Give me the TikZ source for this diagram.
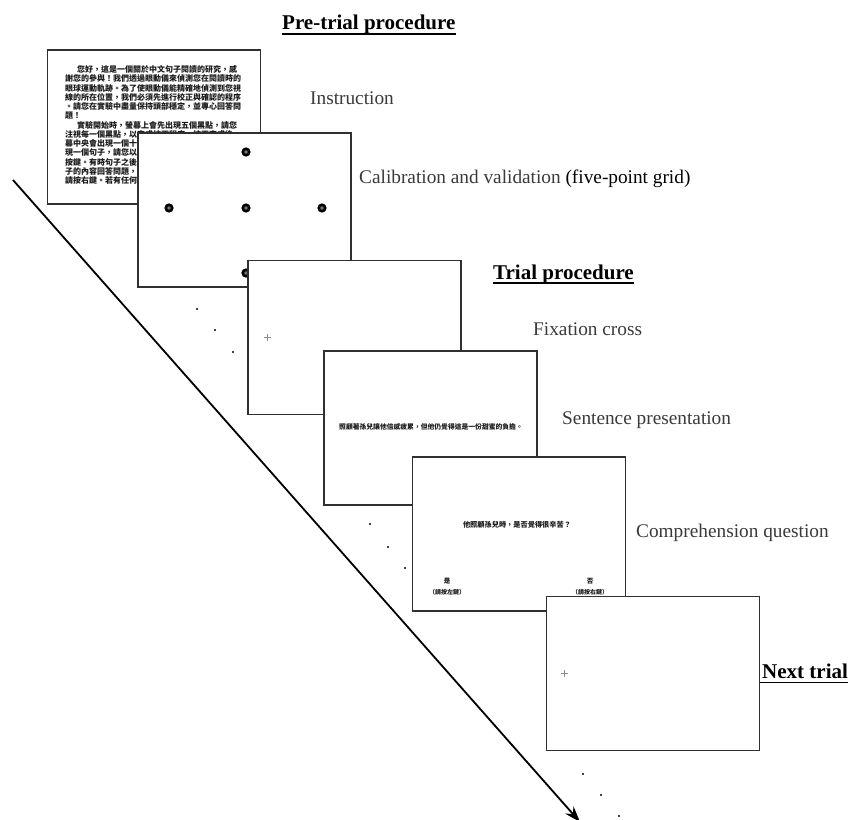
\documentclass[tikz,border=0pt]{standalone}
\usepackage{fontspec}
\setmainfont{Liberation Serif}
\newfontfamily\cjk{Noto Sans CJK TC}
\usetikzlibrary{arrows.meta}
\definecolor{lblgray}{HTML}{3A3A3A}
\definecolor{framecol}{HTML}{303030}
\begin{document}
\begin{tikzpicture}[x=1pt,y=-1pt,
  screen/.style={draw=framecol, line width=1.8pt, fill=white, minimum width=213pt, minimum height=154pt, inner sep=0pt, outer sep=0pt},
  lbl/.style={anchor=base west, inner sep=0pt, font=\fontsize{19.3}{23}\selectfont, text=lblgray},
  head/.style={anchor=base west, inner sep=0pt, font=\bfseries\fontsize{21}{25}\selectfont, text=black},
  uline/.style={line width=1.8pt, black},
  calib/.style={circle, draw=black, line width=2.6pt, fill=black!55, minimum size=6.5pt, inner sep=0pt},
  tdot/.style={circle, fill=black, minimum size=2.4pt, inner sep=0pt},
  cross/.style={draw=black!45, line width=0.6pt},
  cjktext/.style={inner sep=0pt, text=black!90, font=\cjk\bfseries\fontsize{6.8}{8}\selectfont},
  timeline/.style={line width=1.8pt, black, -{Stealth[length=16pt,width=11pt]}}
]
\useasboundingbox (0,0) rectangle (850,819);
\fill[white] (0,0) rectangle (850,819);

% time line
\coordinate (tstart) at (13,180);
\coordinate (tend) at (580,822);
\draw[timeline] (tstart) -- (tend);

% dots
\node[tdot] (d1) at (197,309) {};
\node[tdot] (d2) at (215,330) {};
\node[tdot] (d3) at (233,352) {};
\node[tdot] (d4) at (370,524) {};
\node[tdot] (d5) at (388,547) {};
\node[tdot] (d6) at (405,568) {};
\node[tdot] (d7) at (583,774) {};
\node[tdot] (d8) at (601,795) {};
\node[tdot] (d9) at (619,816) {};

% screen 1: instruction
\node[screen] (s1) at (154,127) {};
\node[cjktext, font=\cjk\bfseries\fontsize{8}{9.25}\selectfont, anchor=north west, align=left] (instr) at (65,65.5) {%
\hspace*{12pt}您好，這是一個關於中文句子閱讀的研究，感\\
謝您的參與！我們透過眼動儀來偵測您在閱讀時的\\
眼球運動軌跡。為了使眼動儀能精確地偵測到您視\\
線的所在位置，我們必須先進行校正與確認的程序\\
。請您在實驗中盡量保持頭部穩定，並專心回答問\\
題！\\
\hspace*{12pt}實驗開始時，螢幕上會先出現五個黑點，請您\\
注視每一個黑點，以完成校正程序。校正完成後，\\
幕中央會出現一個十字，請您注視十字，接著會出\\
現一個句子，請您以平常的速度閱讀，讀完之後請\\
按鍵。有時句子之後會出現一個問題，請您依照句\\
子的內容回答問題，答案為是請按左鍵，答案為否\\
請按右鍵。若有任何問題，請隨時提出。};

% screen 2: calibration
\node[screen] (s2) at (244.5,210) {};
\node[calib] (c1) at (246,152) {};
\node[calib] (c2) at (169,208) {};
\node[calib] (c3) at (246,208) {};
\node[calib] (c4) at (322,208) {};
\node[calib] (c5) at (246,273) {};

% screen 3: fixation
\node[screen] (s3) at (354.5,337.5) {};
\coordinate (fx1) at (267,337);
\draw[cross] ([xshift=-3.5pt]fx1) -- ([xshift=3.5pt]fx1);
\draw[cross] ([yshift=-3.5pt]fx1) -- ([yshift=3.5pt]fx1);

% screen 4: sentence
\node[screen] (s4) at (430.5,428) {};
\node[cjktext] (sent) at (431,427) {照顧著孫兒讓他倍感疲累，但他仍覺得這是一份甜蜜的負擔。};

% screen 5: question
\node[screen] (s5) at (519,534) {};
\node[cjktext, font=\cjk\bfseries\fontsize{7.2}{8}\selectfont] (ques) at (517,525) {他照顧孫兒時，是否覺得很辛苦？};
\node[cjktext, font=\cjk\bfseries\fontsize{6.5}{8}\selectfont] (optA) at (447,581) {是};
\node[cjktext, font=\cjk\bfseries\fontsize{6}{8}\selectfont] (optAk) at (447,592) {（請按左鍵）};
\node[cjktext, font=\cjk\bfseries\fontsize{6.5}{8}\selectfont] (optB) at (590,581) {否};
\node[cjktext, font=\cjk\bfseries\fontsize{6}{8}\selectfont] (optBk) at (590,592) {（請按右鍵）};

% screen 6: next trial
\node[screen] (s6) at (653,673.5) {};
\coordinate (fx2) at (564,673);
\draw[cross] ([xshift=-3.5pt]fx2) -- ([xshift=3.5pt]fx2);
\draw[cross] ([yshift=-3.5pt]fx2) -- ([yshift=3.5pt]fx2);

% labels
\node[head] (hpre) at (282,29.5) {Pre-trial procedure};
\draw[uline] ([yshift=-4.5pt]hpre.base west) -- ([yshift=-4.5pt]hpre.base east);
\node[head] (htrial) at (493,279) {Trial procedure};
\draw[uline] ([yshift=-4pt]htrial.base west) -- ([yshift=-4pt]htrial.base east);
\node[head] (hnext) at (762,678) {Next trial};
\draw[uline] ([yshift=-4.5pt,xshift=-2pt]hnext.base west) -- ([yshift=-4.5pt]hnext.base east);

\node[lbl] (linstr) at (310,104) {Instruction};
\node[lbl] (lcalib) at (359,183) {Calibration and validation {\color{black}(five-point grid)}};
\node[lbl] (lfix) at (533,335) {Fixation cross};
\node[lbl] (lsent) at (562,424) {Sentence presentation};
\node[lbl] (lques) at (636,537) {Comprehension question};
\end{tikzpicture}
\end{document}
